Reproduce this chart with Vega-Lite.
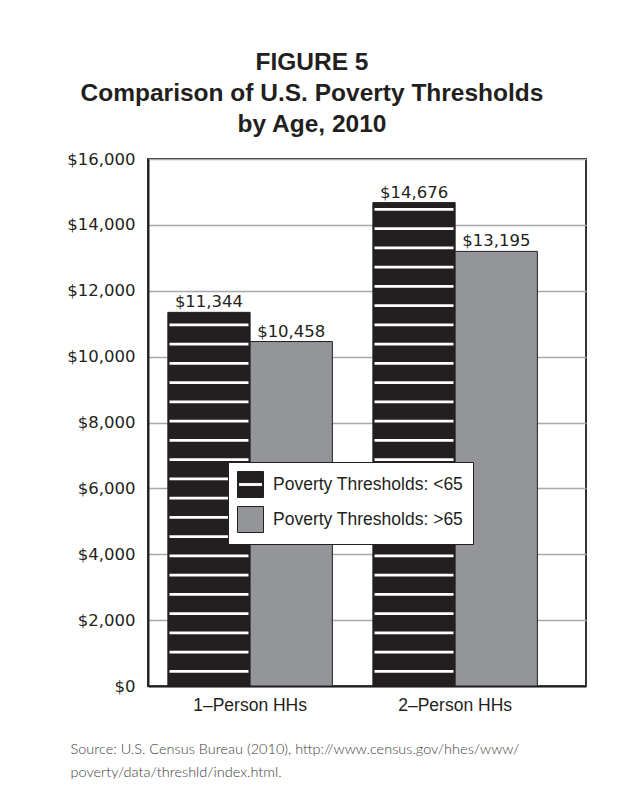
{
  "$schema": "https://vega.github.io/schema/vega-lite/v6.json",
  "width": 438,
  "height": 527,
  "autosize": {"type": "none"},
  "padding": {"left": 148, "top": 159, "right": 31, "bottom": 117},
  "background": "white",
  "title": {
    "text": ["FIGURE 5", "Comparison of U.S. Poverty Thresholds", "by Age, 2010"],
    "anchor": "middle",
    "dx": -55,
    "offset": 14,
    "fontSize": 24.5,
    "fontWeight": "bold",
    "font": "Liberation Sans",
    "color": "#231f20",
    "lineHeight": 31
  },
  "data": {
    "values": [
      {"hh": "1–Person HHs", "age": "<65", "value": 11344},
      {"hh": "1–Person HHs", "age": ">65", "value": 10458},
      {"hh": "2–Person HHs", "age": "<65", "value": 14676},
      {"hh": "2–Person HHs", "age": ">65", "value": 13195}
    ]
  },
  "encoding": {
    "x": {
      "field": "hh",
      "type": "nominal",
      "scale": {"domain": ["1–Person HHs", "2–Person HHs"], "paddingInner": 0.1976, "paddingOuter": 0.167, "align": 0.29},
      "axis": {
        "labelAngle": 0,
        "labelFontSize": 17.5,
        "labelColor": "#231f20",
        "labelPadding": 10,
        "ticks": false,
        "domainColor": "#231f20",
        "domainWidth": 2,
        "title": ["Source: U.S. Census Bureau (2010), http://www.census.gov/hhes/www/", "poverty/data/threshld/index.html."],
        "titleFont": "Lato",
        "titleFontSize": 14.5,
        "titleFontWeight": 300,
        "titleColor": "#3d3d3d",
        "titleAnchor": "start",
        "titleAlign": "left",
        "titleBaseline": "alphabetic",
        "titleX": -78,
        "titleY": 67,
        "titleLineHeight": 23
      }
    },
    "xOffset": {
      "field": "age",
      "type": "nominal",
      "scale": {"domain": ["<65", ">65"], "paddingInner": 0, "paddingOuter": 0}
    },
    "y": {
      "field": "value",
      "type": "quantitative",
      "scale": {"domain": [0, 16000], "nice": false},
      "axis": {
        "values": [0, 2000, 4000, 6000, 8000, 10000, 12000, 14000, 16000],
        "format": "$,.0f",
        "title": null,
        "labelFont": "DejaVu Sans",
        "labelFontSize": 16.5,
        "labelColor": "#231f20",
        "labelPadding": 13,
        "ticks": false,
        "domainColor": "#231f20",
        "domainWidth": 2,
        "grid": true,
        "gridColor": "#a7a9ac",
        "gridWidth": 1.5
      }
    }
  },
  "layer": [
    {
      "mark": {"type": "bar", "stroke": "#231f20", "strokeWidth": 1},
      "encoding": {
        "fill": {
          "field": "age",
          "type": "nominal",
          "scale": {"domain": ["<65", ">65"], "range": ["#231f20", "#939598"]},
          "legend": {
            "orient": "none",
            "legendX": 80,
            "legendY": 303,
            "title": null,
            "labelExpr": "'Poverty Thresholds: ' + datum.label",
            "labelFontSize": 17.5,
            "labelColor": "#231f20",
            "labelOffset": 9,
            "labelLimit": 400,
            "symbolSize": 676,
            "symbolStrokeColor": "#231f20",
            "symbolStrokeWidth": 1,
            "symbolType": "square",
            "rowPadding": 4,
            "padding": 9,
            "strokeColor": "#231f20",
            "fillColor": "white",
            "encode": {
              "symbols": {
                "update": {
                  "shape": {"signal": "datum.value === '<65' ? 'M-1,-1H1V1H-1Z M-0.92,-0.15V0.15H0.92V-0.15Z' : 'square'"}
                }
              }
            }
          }
        }
      }
    },
    {
      "transform": [{"filter": "datum.age === '<65' && datum.hh === '1–Person HHs'"}],
      "mark": {"type": "rule", "stroke": "white", "strokeWidth": 79, "strokeDash": [2.6, 16.65], "strokeDashOffset": 8.0, "strokeCap": "butt"},
      "encoding": {
        "y2": {"datum": 0}
      }
    },
    {
      "transform": [{"filter": "datum.age === '<65' && datum.hh === '2–Person HHs'"}],
      "mark": {"type": "rule", "stroke": "white", "strokeWidth": 79, "strokeDash": [2.6, 16.65], "strokeDashOffset": 13.76, "strokeCap": "butt"},
      "encoding": {
        "y2": {"datum": 0}
      }
    },
    {
      "mark": {"type": "text", "baseline": "bottom", "dy": -2, "font": "DejaVu Sans", "fontSize": 16.5, "color": "#231f20"},
      "encoding": {
        "text": {"field": "value", "type": "quantitative", "format": "$,.0f"}
      }
    }
  ],
  "config": {
    "font": "Liberation Sans",
    "view": {"stroke": "#333333", "strokeWidth": 2}
  }
}
